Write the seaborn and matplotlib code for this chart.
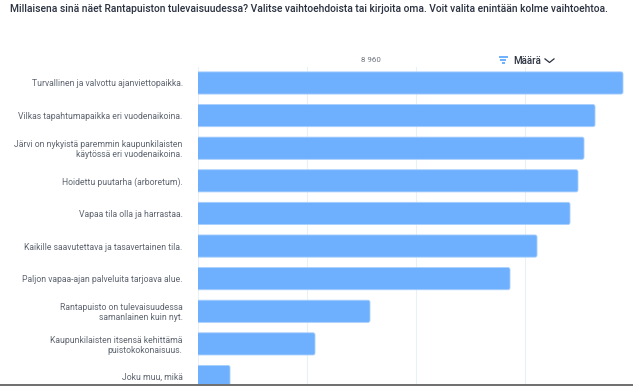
import matplotlib
matplotlib.use("Agg")
import matplotlib.pyplot as plt
from matplotlib.lines import Line2D
from matplotlib.patches import FancyBboxPatch
from matplotlib.transforms import IdentityTransform
import pandas as pd
import seaborn as sns

W, H = 633, 386

title = "Millaisena sinä näet Rantapuiston tulevaisuudessa? Valitse vaihtoehdoista tai kirjoita oma. Voit valita enintään kolme vaihtoehtoa."
labels = [
    "Turvallinen ja valvottu ajanviettopaikka.",
    "Vilkas tapahtumapaikka eri vuodenaikoina.",
    "Järvi on nykyistä paremmin kaupunkilaisten\nkäytössä eri vuodenaikoina.",
    "Hoidettu puutarha (arboretum).",
    "Vapaa tila olla ja harrastaa.",
    "Kaikille saavutettava ja tasavertainen tila.",
    "Paljon vapaa-ajan palveluita tarjoava alue.",
    "Rantapuisto on tulevaisuudessa\nsamanlainen kuin nyt.",
    "Kaupunkilaisten itsensä kehittämä\npuistokokonaisuus.",
    "Joku muu, mikä",
]
values = [8960, 8370, 8138, 8011, 7843, 7147, 6578, 3626, 2467, 675]
grid_ticks = [0, 2300, 4600, 6900]

sns.set_theme(style="white")
plt.rcParams['font.family'] = ['Roboto', 'DejaVu Sans']

data = pd.DataFrame({"label": labels, "value": values})

fig = plt.figure(figsize=(W / 100, H / 100), dpi=100, facecolor="white")
# axes runs past the right edge like the screenshot, bars are cut at the bottom
ax = fig.add_axes([198 / W, (H - 384) / H, (633 - 198) / W, (384 - 67) / H])

sns.barplot(data=data, y="label", x="value", color="#6eb0fe", width=0.68,
            saturation=1, ax=ax, zorder=3)
ax.set_xlim(0, 8960 * 435 / 425)
ax.set_ylim(9.23, -0.49)

ax.set_xlabel("")
ax.set_ylabel("")
ax.set_xticks(grid_ticks)
ax.set_xticklabels([])
ax.tick_params(axis="both", length=0)
ax.tick_params(axis="y", labelsize=6.2, labelcolor="#5f6570", pad=11)
ax.grid(axis="x", color="#e9f0f6", lw=0.8)
ax.set_axisbelow(True)
sns.despine(ax=ax, left=True, bottom=True)
for tl in ax.get_yticklabels():
    tl.set_horizontalalignment("right")
    tl.set_linespacing(1.15)

# rounded right end on the bars, left end stays square because the axes clips it
fig.canvas.draw()
for bar in list(ax.patches):
    box = bar.get_window_extent()
    x0, y0, w, h = box.x0, box.y0, box.width, box.height
    round_bar = FancyBboxPatch((x0 - 3, y0 + 2), w + 1, h - 4,
                               boxstyle="round,pad=2,rounding_size=2",
                               fc="#6eb0fe", ec="#a9cffd", lw=0.6, zorder=3)
    ax.add_patch(round_bar)
    round_bar.set_transform(IdentityTransform())
    round_bar.set_clip_box(ax.bbox)
    bar.set_visible(False)

fig.text(10 / W, 1 - 9.5 / H, title, fontsize=7.35, fontweight="medium", color="#2a3140",
         va="center", ha="left")
fig.text(371 / W, 1 - 60.5 / H, "8 960", fontsize=5.7, color="#6d737c", va="center", ha="center")
fig.text(513 / W, 1 - 60.5 / H, "Määrä", fontsize=7.0, fontweight="medium", color="#2b3240",
         va="center", ha="left")


def px_line(xs, ys, color, lw):
    fig.add_artist(Line2D([x / W for x in xs], [1 - y / H for y in ys], color=color, lw=lw,
                          solid_capstyle="butt"))


# funnel icon
px_line([498.5, 507.5], [57.2, 57.2], "#6eb0fe", 1.4)
px_line([500, 506], [60, 60], "#6eb0fe", 1.4)
px_line([501.5, 504.5], [62.5, 62.5], "#6eb0fe", 1.4)
# chevron
px_line([544.5, 549.5, 554.5], [58.5, 62.5, 58.5], "#2b3240", 0.9)
# dark strip at the bottom of the screenshot
px_line([0, W], [385.3, 385.3], "#555555", 1.2)

fig.savefig("out.png", dpi=100)
